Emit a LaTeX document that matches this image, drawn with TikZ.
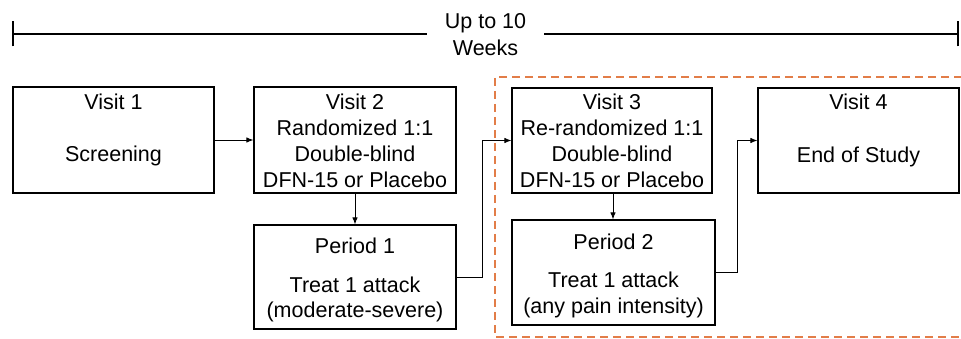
\documentclass[tikz,border=0pt]{standalone}
\usepackage{fontspec}
\setmainfont{Liberation Sans}
\usetikzlibrary{arrows.meta}
\definecolor{dashorange}{RGB}{226,125,72}
\begin{document}
\begin{tikzpicture}[x=1pt,y=-1pt,
  box/.style={draw, line width=1.2pt, inner sep=0pt, fill=white},
  ln/.style={anchor=base, inner sep=0pt, font=\fontsize{21.5}{26}\selectfont},
  arr/.style={line width=0.9pt, -{Latex[length=7pt,width=5.5pt]}},
  link/.style={line width=0.9pt}]
\useasboundingbox (0,0) rectangle (961,339);

% timeline
\coordinate (tl) at (13,34);
\coordinate (tr) at (958,34);
\coordinate (gl) at (427,34);
\coordinate (gr) at (544,34);
\node[ln] (up) at (485.5,29) {Up to 10};
\node[ln] (wk) at (485.5,56) {Weeks};
\draw[line width=2.4pt] (tl) -- (gl);
\draw[line width=2.4pt] (gr) -- (tr);
\draw[line width=1.6pt] ([yshift=-12.5pt]tl) -- ([yshift=12.5pt]tl);
\draw[line width=1.6pt] ([yshift=-12.5pt]tr) -- ([yshift=12.5pt]tr);

% dashed region
\draw[dashorange, line width=2.5pt, dash pattern=on 8pt off 5pt]
  (975,77) -- (495,77) -- (495,337) -- (975,337);

% boxes
\node[box, minimum width=201pt, minimum height=106pt] (v1) at (113.5,140) {};
\node[box, minimum width=202pt, minimum height=106pt] (v2) at (355,140) {};
\node[box, minimum width=202pt, minimum height=104pt] (p1) at (355,277) {};
\node[box, minimum width=200pt, minimum height=105pt] (v3) at (612,140.5) {};
\node[box, minimum width=203pt, minimum height=105pt] (p2) at (613.5,272.5) {};
\node[box, minimum width=201pt, minimum height=105pt] (v4) at (858.5,140.5) {};

% texts
\node[ln] (v1a) at (113.5,110) {Visit 1};
\node[ln] (v1b) at (113.5,162) {Screening};

\node[ln] (v2a) at (355,110) {Visit 2};
\node[ln] (v2b) at (355,136) {Randomized 1:1};
\node[ln] (v2c) at (355,162) {Double-blind};
\node[ln] (v2d) at (355,188) {DFN-15 or Placebo};

\node[ln] (p1a) at (355,254) {Period 1};
\node[ln] (p1b) at (355,292) {Treat 1 attack};
\node[ln] (p1c) at (355,317) {(moderate-severe)};

\node[ln] (v3a) at (612,110) {Visit 3};
\node[ln] (v3b) at (612,136) {Re-randomized 1:1};
\node[ln] (v3c) at (612,162) {Double-blind};
\node[ln] (v3d) at (612,188) {DFN-15 or Placebo};

\node[ln] (p2a) at (613.5,249) {Period 2};
\node[ln] (p2b) at (613.5,287) {Treat 1 attack};
\node[ln] (p2c) at (613.5,313) {(any pain intensity)};

\node[ln] (v4a) at (858.5,110) {Visit 4};
\node[ln] (v4b) at (858.5,163) {End of Study};

% connectors
\draw[arr] (v1.east) -- (v2.west);
\draw[arr] (v2.south) -- (p1.north);
\draw[arr] (p1.east) -- ++(26,0) |- (v3.west);
\draw[arr] (v3.south -| p2.north) ++(-0.5,0) -- ([xshift=-0.5pt]p2.north);
\draw[arr] (p2.east) -- ++(22,0) |- (v4.west);
\end{tikzpicture}
\end{document}
